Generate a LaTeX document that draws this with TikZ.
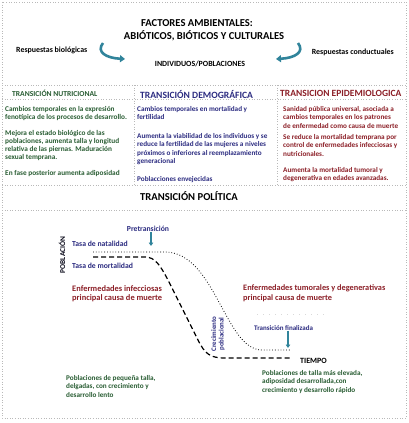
\documentclass[tikz,border=0pt]{standalone}
\usepackage{fontspec}
\setmainfont{Carlito}
\usepackage{tikz}
\usetikzlibrary{arrows.meta, positioning}
\definecolor{cTeal}{RGB}{49,132,155}
\definecolor{cGreen}{RGB}{40,92,50}
\definecolor{cNavy}{RGB}{43,43,128}
\definecolor{cRed}{RGB}{139,30,38}
\tikzset{
  dotframe/.style={gray!55, dotted, line width=0.6pt},
  bigtitle/.style={font=\bfseries\fontsize{10.6}{12}\selectfont, inner sep=0pt},
  colhead/.style={anchor=west, inner sep=0pt},
  colbody/.style={font=\bfseries\fontsize{7.3}{8.2}\selectfont, anchor=north west, inner sep=0pt, align=left},
  lbl/.style={font=\bfseries\fontsize{7.7}{8.8}\selectfont, inner sep=0pt, align=left},
  bendarrow/.style={cTeal, line width=2.6pt, -{Triangle[width=7pt,length=5pt]}},
  tealarrow/.style={cTeal, line width=1.3pt, -{Triangle[width=4.5pt,length=3.5pt]}},
  natal/.style={dotted, line width=0.8pt},
  mortal/.style={line width=1.2pt, dash pattern=on 5pt off 3pt}
}
\begin{document}
\begin{tikzpicture}[x=1pt, y=-1pt, font=\bfseries]
  \useasboundingbox (0,0) rectangle (409,423);
  % marco
  \draw[dotframe] (2,2) rectangle (406,418);
  \foreach \yy in {85,99,185,210} \draw[dotframe] (2,\yy) -- (406,\yy);
  \foreach \xx in {134,277} \draw[dotframe] (\xx,85) -- (\xx,185);

  % factores ambientales
  \node[bigtitle] (factores) at (197,23) {FACTORES AMBIENTALES:};
  \node[bigtitle] (abioticos) at (204,36) {ABIÓTICOS, BIÓTICOS Y CULTURALES};
  \node[lbl, font=\bfseries\fontsize{7.9}{9}\selectfont] (indiv) at (200,64) {INDIVIDUOS/POBLACIONES};
  \node[lbl, font=\bfseries\fontsize{7.9}{9}\selectfont, anchor=west] (resbio) at (16,50) {Respuestas biológicas};
  \node[lbl, font=\bfseries\fontsize{7.9}{9}\selectfont, anchor=east] (rescond) at (394,52) {Respuestas conductuales};
  \coordinate (bioA) at (103,43);
  \coordinate (bioB) at (125,59);
  \coordinate (conA) at (298,43);
  \coordinate (conB) at (276,59);
  \draw[bendarrow] (bioA) .. controls (96,52) and (106,58) .. (bioB);
  \draw[bendarrow] (conA) .. controls (305,52) and (295,58) .. (conB);

  % columnas
  \node[colhead, cGreen, font=\bfseries\fontsize{7.6}{9}\selectfont] (nutri) at (12,93) {TRANSICIÓN NUTRICIONAL};
  \node[colhead, cNavy, font=\bfseries\fontsize{9.6}{11}\selectfont] (demo) at (140,94) {TRANSICIÓN DEMOGRÁFICA};
  \node[colhead, cRed, font=\bfseries\fontsize{9.5}{11}\selectfont] (epi) at (280,93) {TRANSICION EPIDEMIOLOGICA};
  \foreach \n/\yy/\t in {1/106/{Cambios temporales en la expresión\\fenotípica de los procesos de desarrollo.},
                         2/130/{Mejora el estado biológico de las\\poblaciones, aumenta talla y longitud\\relativa de las piernas. Maduración\\sexual temprana.},
                         3/170/{En fase posterior aumenta adiposidad}}
    \node[colbody, cGreen] (nutri\n) at (5,\yy) {\t};
  \foreach \n/\yy/\t in {1/106/{Cambios temporales en mortalidad y\\fertilidad},
                         2/133/{Aumenta la viabilidad de los individuos y se\\reduce la fertilidad de las mujeres a niveles\\próximos o inferiores al reemplazamiento\\generacional},
                         3/176/{Poblacciones envejecidas}}
    \node[colbody, cNavy, font=\bfseries\fontsize{7.2}{8.4}\selectfont] (demo\n) at (137,\yy) {\t};
  \foreach \n/\yy/\t in {1/106/{Sanidad pública universal, asociada a\\cambios temporales en los patrones\\de enfermedad como causa de muerte},
                         2/134/{Se reduce la mortalidad temprana por\\control de enfermedades infecciosas y\\nutricionales.},
                         3/167/{Aumenta la mortalidad tumoral y\\degenerativa en edades avanzadas.}}
    \node[colbody, cRed, font=\bfseries\fontsize{7.2}{8.7}\selectfont] (epi\n) at (283,\yy) {\t};

  % transicion politica
  \node[bigtitle] (politica) at (189,196) {TRANSICIÓN POLÍTICA};
  \node[lbl, cNavy] (pretrans) at (148,229) {Pretransición};
  \coordinate (preTip) at (151,246);
  \draw[tealarrow] (pretrans.south -| preTip) -- (preTip);
  \node[lbl, rotate=90, black!80!cNavy, font=\bfseries\fontsize{7.4}{8}\selectfont] (poblacion) at (62,255) {POBLACIÓN};
  \node[lbl, cNavy, anchor=west] (natalidad) at (72,244) {Tasa de natalidad};
  \node[lbl, cNavy, anchor=west] (mortalidad) at (72,266) {Tasa de mortalidad};
  \draw[natal] (93,252) -- (165,252) .. controls (215,252) and (225,350) .. (262,350) -- (290,350);
  \draw[mortal] (93,257) -- (145,257) .. controls (155,257) and (160,265) .. (168,280)
    -- (198,340) .. controls (205,354) and (210,358) .. (225,358) -- (290,358);
  \node[lbl, cNavy, rotate=90, align=center, font=\bfseries\fontsize{6.9}{7.5}\selectfont] (crec) at (218,334) {Crecimiento\\poblacional};
  \draw[gray!30, dash pattern=on 1pt off 5pt] (257,314) -- (325,314);
  \node[lbl, cNavy, anchor=west, font=\bfseries\fontsize{7}{8}\selectfont] (final) at (254,328) {Transición finalizada};
  \coordinate (finTip) at (288,348);
  \draw[tealarrow] (finTip |- final.south) -- (finTip);
  \node[lbl, anchor=west, font=\bfseries\fontsize{8}{9}\selectfont] (tiempo) at (300,361) {TIEMPO};
  \node[lbl, cRed, anchor=west, font=\bfseries\fontsize{8.4}{9.5}\selectfont] (infec) at (72,293.5) {Enfermedades infecciosas\\principal causa de muerte};
  \node[lbl, cRed, anchor=west, font=\bfseries\fontsize{8.3}{9.5}\selectfont] (tumor) at (243,293) {Enfermedades tumorales y degenerativas\\principal causa de muerte};
  \node[lbl, cGreen, anchor=west, font=\bfseries\fontsize{7.2}{8.5}\selectfont] (pequena) at (66,386) {Poblaciones de pequeña talla,\\delgadas, con crecimiento y\\desarrollo lento};
  \node[lbl, cGreen, anchor=west, font=\bfseries\fontsize{7.2}{8.5}\selectfont] (elevada) at (262,382) {Poblaciones de talla más elevada,\\adiposidad desarrollada,con\\crecimiento y desarrollo rápido};
\end{tikzpicture}
\end{document}
